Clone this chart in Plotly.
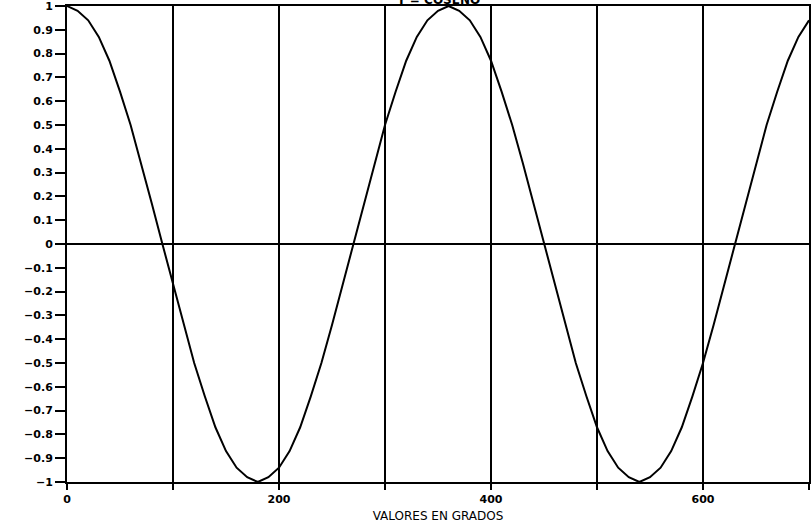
import plotly.graph_objects as go

# Angle in degrees (x) and value (y)
grados = [0, 10, 20, 30, 40, 50, 60, 70, 80, 90, 100, 110, 120, 130, 140, 150, 160, 170,
          180, 190, 200, 210, 220, 230, 240, 250, 260, 270, 280, 290, 300, 310, 320, 330,
          340, 350, 360, 370, 380, 390, 400, 410, 420, 430, 440, 450, 460, 470, 480, 490,
          500, 510, 520, 530, 540, 550, 560, 570, 580, 590, 600, 610, 620, 630, 640, 650,
          660, 670, 680, 690, 700]
coseno = [1.00, 0.98, 0.94, 0.87, 0.77, 0.64, 0.50, 0.34, 0.17, 0.00, -0.17, -0.34, -0.50,
          -0.64, -0.77, -0.87, -0.94, -0.98, -1.00, -0.98, -0.94, -0.87, -0.77, -0.64, -0.50,
          -0.34, -0.17, 0.00, 0.17, 0.34, 0.50, 0.64, 0.77, 0.87, 0.94, 0.98, 1.00, 0.98, 0.94,
          0.87, 0.77, 0.64, 0.50, 0.34, 0.17, 0.00, -0.17, -0.34, -0.50, -0.64, -0.77, -0.87,
          -0.94, -0.98, -1.00, -0.98, -0.94, -0.87, -0.77, -0.64, -0.50, -0.34, -0.17, 0.00,
          0.17, 0.34, 0.50, 0.64, 0.77, 0.87, 0.94]

x_tickvals = [0, 100, 200, 300, 400, 500, 600, 700]
x_ticktext = ["0", "", "200", "", "400", "", "600", ""]
y_tickvals = [1, 0.9, 0.8, 0.7, 0.6, 0.5, 0.4, 0.3, 0.2, 0.1, 0, -0.1, -0.2, -0.3, -0.4,
              -0.5, -0.6, -0.7, -0.8, -0.9, -1]
y_ticktext = ["1", "0.9", "0.8", "0.7", "0.6", "0.5", "0.4", "0.3", "0.2", "0.1", "0",
              "\u22120.1", "\u22120.2", "\u22120.3", "\u22120.4", "\u22120.5", "\u22120.6",
              "\u22120.7", "\u22120.8", "\u22120.9", "\u22121"]
titulo = "Y = COSENO"
x_titulo = "VALORES EN GRADOS"

fig = go.Figure()
fig.add_trace(go.Scatter(x=grados, y=coseno, mode="lines",
                         line=dict(color="black", width=2), showlegend=False))

tick_font = dict(family="DejaVu Sans", size=11, color="black", weight="bold")

fig.update_layout(
    width=811, height=526,
    margin=dict(l=67, r=0, t=6, b=44),
    paper_bgcolor="white", plot_bgcolor="white",
    font=dict(family="DejaVu Sans", size=11, color="black"),
    xaxis=dict(range=[0, 700], tickvals=x_tickvals, ticktext=x_ticktext,
               showgrid=True, gridcolor="black", gridwidth=2,
               showline=True, linecolor="black", linewidth=2, mirror=True,
               ticks="outside", ticklen=6, tickwidth=2, tickcolor="black",
               zeroline=False, tickfont=tick_font, ticklabeloverflow="allow",
               title=dict(text=x_titulo, standoff=6,
                          font=dict(family="DejaVu Sans", size=12, color="black"))),
    yaxis=dict(range=[-1, 1], tickvals=y_tickvals, ticktext=y_ticktext,
               showgrid=False,
               showline=True, linecolor="black", linewidth=2, mirror=True,
               ticks="outside", ticklen=10, tickwidth=2, tickcolor="black",
               zeroline=True, zerolinecolor="black", zerolinewidth=2,
               tickfont=tick_font, ticklabeloverflow="allow"),
    annotations=[dict(text="<b>" + titulo + "</b>", xref="paper", yref="paper",
                      x=0.5, y=1, xanchor="center", yanchor="bottom", yshift=-3,
                      showarrow=False,
                      font=dict(family="DejaVu Sans", size=12, color="black"))],
)

fig.write_html("out.html", config={"displayModeBar": False},
               post_script="document.body.style.margin='0';")
